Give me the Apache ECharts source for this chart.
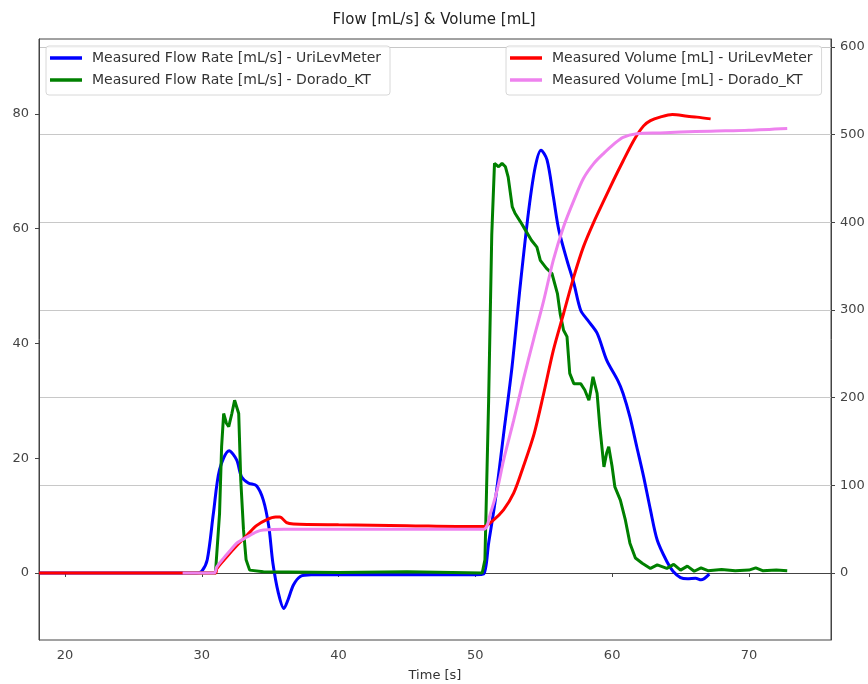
<!DOCTYPE html>
<html>
<head>
<meta charset="utf-8">
<script src="https://cdn.jsdelivr.net/npm/echarts@6/dist/echarts.min.js"></script>
<style>
html, body { margin: 0; padding: 0; background: #fff; }
#chart { width: 868px; height: 684px; }
</style>
</head>
<body>
<div id="chart"></div>
<script>
// [time s, value]
var flowUri = [[18.1,0],[29.6,0],[30.0,0.3],[30.4,2.3],[30.85,10.4],[31.3,18],[32.0,21.3],[32.55,19.7],[32.9,16.8],[33.4,15.7],[34.0,15.2],[34.5,12.7],[34.9,8.1],[35.2,1.7],[35.6,-3.5],[36.0,-6.2],[36.3,-4.7],[36.7,-2.1],[37.2,-0.6],[38.0,-0.3],[42,-0.3],[46,-0.3],[50.0,-0.3],[50.6,-0.2],[50.97,5.2],[51.46,12.7],[52.07,24.3],[52.68,35.9],[53.3,50.5],[53.9,63.2],[54.38,70.8],[54.8,73.7],[55.24,72],[55.7,65.6],[56.1,59.8],[56.7,54.5],[57.2,50.5],[57.7,45.8],[58.2,44.1],[58.9,41.8],[59.6,37.1],[60.4,33.6],[60.8,31.3],[61.3,27.2],[61.8,22],[62.3,16.8],[62.8,11],[63.3,5.7],[64.0,2.0],[64.45,0.3],[65.0,-0.8],[65.5,-1.0],[66.1,-0.9],[66.5,-1.2],[67.1,-0.2]];

var flowDorado = [[28.6,0],[31.0,0],[31.1,0.2],[31.3,10.4],[31.45,22],[31.6,27.8],[31.8,26.1],[31.97,25.5],[32.2,27.8],[32.4,30.1],[32.7,27.8],[32.85,16.2],[33.05,7.5],[33.24,2.3],[33.5,0.5],[34.5,0.2],[40,0.1],[45,0.2],[50.5,0],[50.7,2.3],[50.97,30],[51.2,59],[51.4,71.4],[51.7,70.8],[51.95,71.4],[52.2,70.8],[52.4,69],[52.7,63.8],[52.9,62.7],[53.3,61.2],[53.65,59.8],[54.1,58],[54.5,56.8],[54.75,54.5],[55.2,53.1],[55.6,52.2],[56.0,48.7],[56.2,45.2],[56.45,42.3],[56.7,41.2],[56.9,34.8],[57.2,33],[57.7,33],[58.0,31.9],[58.3,30.1],[58.4,31.3],[58.6,34.2],[58.9,31.3],[59.1,25.5],[59.4,18.5],[59.6,20.9],[59.75,22],[60.0,18.5],[60.2,15],[60.6,12.7],[60.97,9.2],[61.3,5.2],[61.7,2.6],[62.2,1.7],[62.8,0.8],[63.3,1.4],[64.0,0.8],[64.5,1.5],[65.0,0.5],[65.5,1.2],[66.0,0.3],[66.5,0.9],[67.0,0.4],[68,0.6],[69,0.4],[70,0.5],[70.5,0.9],[71,0.4],[72,0.5],[72.8,0.4]];

var volUri = [[18.1,0],[31.0,0],[31.1,5],[31.8,18],[32.55,31],[33.3,43],[34.0,54],[34.75,61],[35.4,64],[35.7,64],[36.2,57.5],[36.7,56],[40,55],[45,54],[50,53],[50.6,53],[51.3,60],[52.06,72],[52.8,91],[53.5,121],[54.3,159],[55.0,205],[55.7,254],[56.45,296],[57.2,338],[57.9,372],[58.65,400],[59.4,425],[60.1,448],[60.8,470],[61.6,494],[62.3,510],[62.8,516],[63.5,520],[64.4,523],[65.5,521],[66.2,520],[67.2,518]];

var volDorado = [[28.6,0],[30.9,0],[31.1,7],[31.6,17],[32.1,26],[32.55,34],[33.3,41],[34.0,47],[34.5,49],[36,50],[40,50],[45,50],[50.6,50],[51.1,68],[51.6,95],[52.07,129],[52.8,174],[53.5,220],[54.25,266],[55.0,311],[55.7,357],[56.45,395],[57.2,425],[57.9,450],[58.65,467],[59.4,479],[60.1,489],[60.8,497],[61.8,501],[63.5,502],[65,503],[67.2,504],[70,505],[72.8,507]];

var timeTicks = [20, 30, 40, 50, 60, 70];
var flowTicks = [0, 20, 40, 60, 80];
var volTicks = [0, 100, 200, 300, 400, 500, 600];

var names = [
	'Measured Flow Rate [mL/s] - UriLevMeter',
	'Measured Flow Rate [mL/s] - Dorado_KT',
	'Measured Volume [mL] - UriLevMeter',
	'Measured Volume [mL] - Dorado_KT'
];

var font = 'DejaVu Sans';
var chart = echarts.init(document.getElementById('chart'));

function legendBox(left, list) {
	return {
		left: left,
		top: 46,
		orient: 'vertical',
		data: list,
		icon: 'rect',
		itemWidth: 32,
		itemHeight: 3.5,
		itemGap: 8,
		padding: [5, 9, 8, 4],
		borderColor: '#d8d8d8',
		borderWidth: 1,
		borderRadius: 3,
		backgroundColor: 'rgba(255,255,255,0.85)',
		selectedMode: false,
		textStyle: { fontFamily: font, fontSize: 14, lineHeight: 14, color: '#333', padding: [0, 0, 0, 5] }
	};
}

function line(name, data, color, axis, smooth) {
	return {
		name: name,
		type: 'line',
		yAxisIndex: axis,
		data: data,
		showSymbol: false,
		smooth: smooth,
		lineStyle: { color: color, width: 3 },
		itemStyle: { color: color },
		animation: false
	};
}

var tickLabel = { fontFamily: font, fontSize: 13, color: '#444' };

chart.setOption({
	backgroundColor: '#fff',
	title: {
		text: 'Flow [mL/s] & Volume [mL]',
		left: 'center',
		top: 8,
		textStyle: { fontFamily: font, fontSize: 15, fontWeight: 'normal', color: '#222' }
	},
	legend: [legendBox(46, names.slice(0, 2)), legendBox(506, names.slice(2, 4))],
	grid: {
		left: 39, right: 37, top: 39, bottom: 44,
		outerBoundsMode: 'none',
		containLabel: false,
		show: true, borderColor: '#444', borderWidth: 1
	},
	xAxis: {
		type: 'value',
		min: 18.1,
		max: 76,
		name: 'Time [s]',
		nameLocation: 'middle',
		nameGap: 29,
		nameTextStyle: { fontFamily: font, fontSize: 13, color: '#333' },
		axisLine: { lineStyle: { color: '#444' } },
		axisTick: { customValues: timeTicks, length: 4, lineStyle: { color: '#444' } },
		axisLabel: Object.assign({ customValues: timeTicks, margin: 9 }, tickLabel),
		splitLine: { show: false }
	},
	yAxis: [{
		type: 'value',
		min: -11.68,
		max: 93.07,
		axisLine: { show: true, lineStyle: { color: '#444' } },
		axisTick: { show: true, customValues: flowTicks, length: 4, lineStyle: { color: '#444' } },
		axisLabel: Object.assign({ customValues: flowTicks, margin: 10 }, tickLabel),
		splitLine: { show: false }
	}, {
		type: 'value',
		position: 'right',
		min: -76.4,
		max: 609.1,
		axisLine: { show: true, lineStyle: { color: '#444' } },
		axisTick: { show: true, customValues: volTicks, length: 4, lineStyle: { color: '#444' } },
		axisLabel: Object.assign({ customValues: volTicks, margin: 9 }, tickLabel),
		splitLine: { show: true, lineStyle: { color: '#c8c8c8', width: 1 } }
	}],
	series: [
		line(names[0], flowUri, '#0000ff', 0, 0.3),
		line(names[1], flowDorado, '#008000', 0, false),
		line(names[2], volUri, '#ff0000', 1, 0.3),
		line(names[3], volDorado, '#ee82ee', 1, 0.3)
	]
});
</script>
</body>
</html>
